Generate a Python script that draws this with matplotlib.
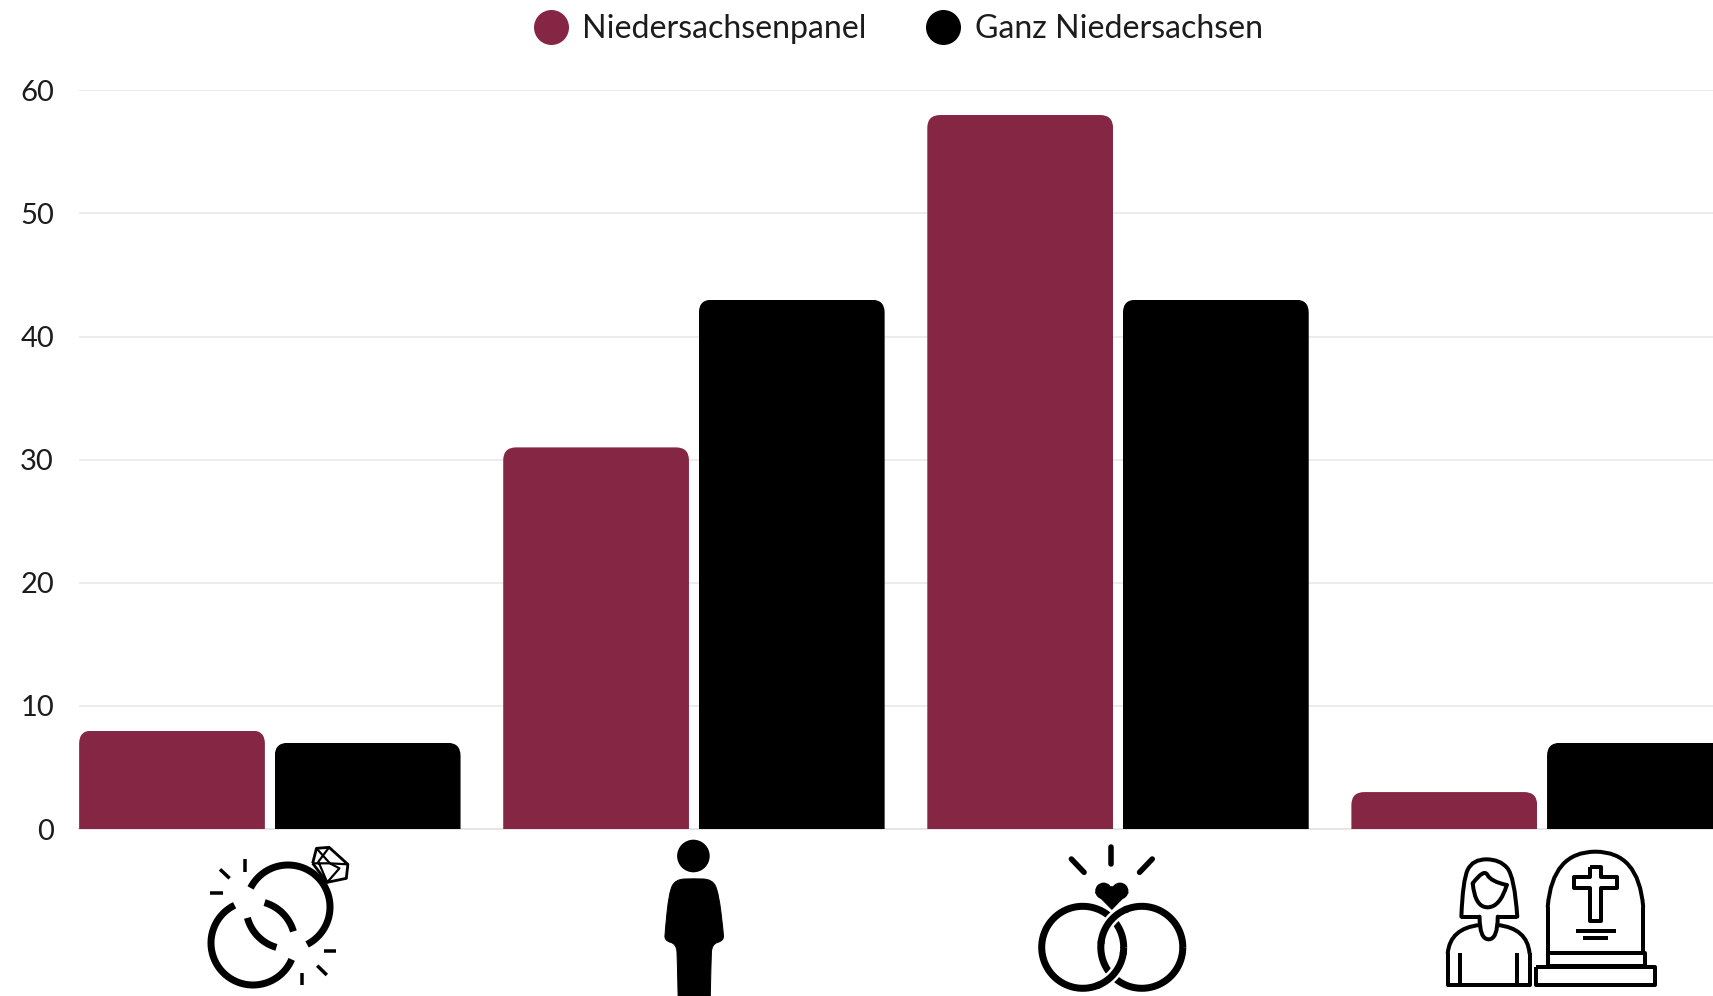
import numpy as np
import matplotlib
matplotlib.use("Agg")
import matplotlib.pyplot as plt
from matplotlib.lines import Line2D
from matplotlib.path import Path
from matplotlib.patches import PathPatch, Circle

categories = [0, 1, 2, 3]
panel = [8, 31, 58, 3]
ganz = [7, 43, 43, 7]
series_names = ["Niedersachsenpanel", "Ganz Niedersachsen"]
yticks = [0, 10, 20, 30, 40, 50, 60]

RED = "#862645"
W, H = 1713, 996
PX = 72 / 100  # one pixel in points

plt.rcParams["font.family"] = ["Lato", "DejaVu Sans"]

fig = plt.figure(figsize=(W / 100, H / 100), dpi=100)
ax = fig.add_axes([79 / W, (H - 829) / H, 1 - 79 / W, (829 - 90.4) / H])
ax.set_xlim(-0.45, 3.403)
ax.set_ylim(0, 60)


def rounded_top(bar, r=13):
    # bar outline with round top corners, r in pixels
    rx = r / 423.9
    ry = r / 12.31
    x0, x1 = bar.get_x(), bar.get_x() + bar.get_width()
    h = bar.get_height()
    verts = [(x0, 0), (x0, h - ry), (x0, h), (x0 + rx, h), (x1 - rx, h), (x1, h), (x1, h - ry), (x1, 0), (x0, 0)]
    codes = [Path.MOVETO, Path.LINETO, Path.CURVE3, Path.CURVE3, Path.LINETO, Path.CURVE3, Path.CURVE3, Path.LINETO, Path.CLOSEPOLY]
    return Path(verts, codes)


x = np.array(categories)
bars1 = ax.bar(x - 0.2307, panel, 0.438, color=RED, zorder=3)
bars2 = ax.bar(x + 0.2307, ganz, 0.438, color="black", zorder=3)
for b in list(bars1) + list(bars2):
    b.set_clip_path(rounded_top(b), ax.transData)

ax.set_yticks(yticks)
ax.set_xticks([])
ax.tick_params(axis="y", length=0, pad=18, labelsize=21, labelcolor="#1c1c1c")
ax.grid(axis="y", color="#e6e6e6", lw=1.5 * PX, zorder=0)
for s in ["top", "right", "left"]:
    ax.spines[s].set_visible(False)
ax.spines["bottom"].set_color("#e6e6e6")
ax.spines["bottom"].set_linewidth(2 * PX)

handles = [
    Line2D([], [], ls="", marker="o", ms=35 * PX, color=RED, mew=0),
    Line2D([], [], ls="", marker="o", ms=35 * PX, color="black", mew=0),
]
fig.legend(handles, series_names, ncol=2, loc="center", bbox_to_anchor=(896 / W, 1 - 29 / H),
           frameon=False, fontsize=23.1, labelcolor="#1c1c1c", handletextpad=0.3, columnspacing=1.72,
           handlelength=1.35, borderpad=0, borderaxespad=0)

# icons below the axis, drawn in figure pixels
ic = fig.add_axes([0, 0, 1, 1], facecolor="none")
ic.set_xlim(0, W)
ic.set_ylim(H, 0)
ic.axis("off")


def z1(pts):
    return [(150 + a / 2.613, 820 + b / 3) for a, b in pts]


def z2(pts):
    return [(1000 + a / 2.2, 820 + b / 3) for a, b in pts]


def stroke(pts, w=7, cap="butt", color="black", join="round", z=5):
    xs, ys = zip(*pts)
    ic.plot(xs, ys, color=color, lw=w * PX, solid_capstyle=cap, solid_joinstyle=join, zorder=z)


def arc(cx, cy, r, a0, a1, w=7, color="black", z=5):
    t = np.radians(np.linspace(a0, a1, 80))
    stroke(list(zip(cx + r * np.cos(t), cy + r * np.sin(t))), w, color=color, z=z)


def smooth(pts, w=4, fc="none", z=5):
    # quadratic curve through the midpoints of the traced points
    p = np.array(pts, float)
    verts = [p[0]]
    codes = [Path.MOVETO]
    for i in range(1, len(p) - 1):
        verts += [p[i], (p[i] + p[i + 1]) / 2 if i < len(p) - 2 else p[i + 1]]
        codes += [Path.CURVE3, Path.CURVE3]
    ic.add_patch(PathPatch(Path(verts, codes), fc=fc, ec="black", lw=w * PX, capstyle="round", joinstyle="round", zorder=z))


# broken rings
arc(288, 907, 42, -153, 63)
arc(288, 907, 42, 106, 165)
arc(253, 943, 42, 23, 244)
arc(253, 943, 42, -74, -16)
for seg in [[(247, 118), (247, 155)], [(183, 148), (208, 175)], [(158, 220), (190, 220)],
            [(455, 392), (487, 392)], [(437, 437), (462, 465)], [(396, 458), (396, 495)]]:
    stroke(z1(seg), 3.5)
stroke(z1([(425, 130), (435, 85), (468, 82), (517, 133), (513, 175), (463, 187), (425, 130)]), 2.8)
stroke(z1([(435, 85), (470, 130), (517, 133)]), 2.2)
stroke(z1([(468, 82), (440, 125), (463, 187), (495, 145), (470, 130), (425, 130)]), 2.2)

# person
ic.add_patch(Circle((693.4, 856), 16.3, fc="black", ec="none", zorder=5))
smooth(z1([(1380, 530), (1378, 420), (1376, 372), (1345, 362), (1346, 335), (1356, 220), (1372, 178), (1421, 176), (1470, 178),
           (1486, 220), (1498, 335), (1499, 362), (1468, 372), (1466, 420), (1464, 530)]), w=1, fc="black")

# wedding rings
lc, rc, ry = 1082.7, 1141.8, 947.3
arc(lc, ry, 41, 0, 360)
arc(rc, ry, 41, 0, 360)
arc(rc, ry, 41, 190, 245, w=12, color="white", z=6)
arc(rc, ry, 41, 185, 250, z=7)
arc(lc, ry, 41, 10, 65, w=12, color="white", z=6)
arc(lc, ry, 41, 5, 70, z=7)
for seg in [[(245, 80), (245, 132)], [(157, 117), (185, 157)], [(335, 117), (307, 157)]]:
    stroke(z2(seg), 5.5, cap="round")
heart = z2([(246, 268), (210, 218), (230, 205), (246, 200), (262, 205), (282, 218)])
ic.fill(*zip(*heart), fc="black", ec="black", lw=1 * PX, zorder=8)
for cx_zoom in (228, 264):
    hx, hy = z2([(cx_zoom, 213)])[0]
    ic.add_patch(Circle((hx, hy), 8.4, fc="black", ec="none", zorder=8))

# woman and gravestone
smooth(z2([(1015, 290), (1018, 180), (1040, 118), (1100, 118), (1132, 170), (1138, 290)]))
stroke(z2([(1015, 290), (1055, 290)]), 4)
stroke(z2([(1095, 290), (1138, 290)]), 4)
smooth(z2([(1040, 190), (1045, 262), (1100, 262), (1115, 195)]))
smooth(z2([(1040, 190), (1065, 145), (1080, 185), (1115, 195)]))
smooth(z2([(1055, 290), (1055, 358), (1095, 358), (1095, 290)]))
smooth(z2([(1055, 315), (990, 325), (985, 400)]))
smooth(z2([(1095, 315), (1160, 325), (1165, 400)]))
stroke(z2([(985, 400), (985, 495), (1165, 495), (1165, 400)]), 4)
stroke(z2([(1013, 400), (1013, 495)]), 4)
stroke(z2([(1138, 400), (1138, 495)]), 4)
stroke(z2([(1205, 400), (1205, 260)]), 4)
stroke(z2([(1415, 400), (1415, 260)]), 4)
smooth(z2([(1205, 260), (1215, 95), (1405, 95), (1415, 260)]))
stroke(z2([(1205, 400), (1418, 400), (1418, 438), (1205, 438), (1205, 400)]), 4)
stroke(z2([(1180, 440), (1440, 440), (1440, 495), (1180, 495), (1180, 440)]), 4)
stroke(z2([(1297, 140), (1322, 140), (1322, 170), (1357, 170), (1357, 205), (1322, 205), (1322, 303), (1297, 303),
           (1297, 205), (1263, 205), (1263, 170), (1297, 170), (1297, 140)]), 4)
stroke(z2([(1268, 332), (1355, 332)]), 4)
stroke(z2([(1283, 355), (1338, 355)]), 4)

fig.savefig("out.png", dpi=100, facecolor="white")
